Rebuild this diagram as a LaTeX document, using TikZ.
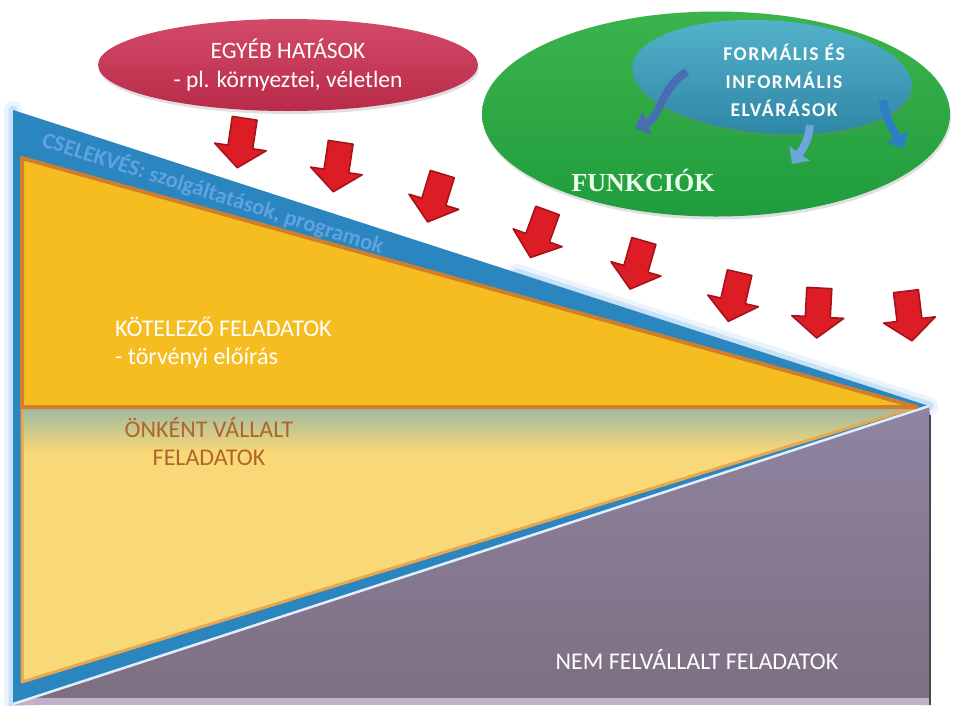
\documentclass[tikz,border=0pt]{standalone}
\usepackage{fontspec}
\setmainfont{Carlito}
\newfontfamily\funkfont{Liberation Serif}
\usetikzlibrary{arrows.meta,shapes.geometric,shadows,calc}
\definecolor{BandBlue}{HTML}{2B86BF}
\definecolor{GlowBlue}{HTML}{9CCBF0}
\definecolor{GoldTop}{HTML}{F6BD21}
\definecolor{GoldLow}{HTML}{F8D877}
\definecolor{GoldEdge}{HTML}{CF7E2C}
\definecolor{GoldEdgeLow}{HTML}{E9A64C}
\definecolor{SageTint}{HTML}{9DB8A4}
\definecolor{MauveTop}{HTML}{8F84A2}
\definecolor{MauveBot}{HTML}{7D6F81}
\definecolor{MauveStrip}{HTML}{C2B0C9}
\definecolor{RoseTop}{HTML}{D24A68}
\definecolor{RoseBot}{HTML}{B92B48}
\definecolor{LeafTop}{HTML}{3BB44C}
\definecolor{LeafBot}{HTML}{1F9C3D}
\definecolor{TealTop}{HTML}{55B3CB}
\definecolor{TealBot}{HTML}{2F87A6}
\definecolor{ArrRed}{HTML}{DD1D26}
\definecolor{ArrDark}{HTML}{A8121B}
\definecolor{TextBrown}{HTML}{B0652A}
\definecolor{TextSky}{HTML}{5FA2E2}
\definecolor{CurlOne}{HTML}{4A6CB3}
\definecolor{CurlTwo}{HTML}{6CA6DC}
\definecolor{CurlThree}{HTML}{2F7DC5}

\begin{document}
\begin{tikzpicture}[x=1pt, y=-1pt,
  txt/.style={font=\fontsize{24}{28}\selectfont, inner sep=0pt, align=center},
  blob/.style={ellipse, inner sep=0pt, drop shadow={opacity=0.25, shadow xshift=1pt, shadow yshift=-3pt}},
  push/.style={fill=ArrRed, draw=ArrDark, line width=1.6pt, line join=round},
  curlarrow/.style={line width=8pt, -{Triangle[length=13pt, width=24pt]}},
  glow/.style={draw=GlowBlue, line join=round, line cap=round}
]
\useasboundingbox[fill=white] (0,0) rectangle (953,705);

\coordinate (tl) at (13,110);
\coordinate (tip) at (929,406);
\coordinate (bl) at (13,704);
\coordinate (ytl) at (22,158);
\coordinate (ytip) at (917,407);
\coordinate (yml) at (22,407);
\coordinate (ybl) at (22,682);
\coordinate (tm) at ($(tl)!0.55!(tip)$);

\draw[glow, line width=18pt, opacity=0.2] (tl) -- (bl) (tm) -- (tip) -- (bl);
\draw[glow, line width=9pt, opacity=0.45] (tl) -- (bl) (tm) -- (tip) -- (bl);

\shade[top color=MauveTop, bottom color=MauveBot] (tip) -- (930,415) -- (930,705) -- (bl) -- cycle;
\fill[MauveStrip] (13,698) rectangle (930,705);
\draw[MauveBot!60!black, line width=1.5pt] (930,415) -- (930,705);

\fill[BandBlue] (tl) -- (tip) -- (bl) -- cycle;
\draw[white!70!GlowBlue, line width=2.5pt] (bl) -- (tip);

\fill[GoldLow] (yml) -- (ytip) -- (ybl) -- cycle;
\begin{scope}
  \clip (yml) -- (ytip) -- (ybl) -- cycle;
  \shade[top color=SageTint, bottom color=GoldLow] (22,407) rectangle (917,452);
\end{scope}
\draw[GoldEdgeLow, line width=3pt, line join=round] (yml) -- (ytip) -- (ybl) -- cycle;
\filldraw[fill=GoldTop, draw=GoldEdge, line width=4pt, line join=round] (ytl) -- (ytip) -- (yml) -- cycle;

\node[font=\bfseries\fontsize{22.5}{22.5}\selectfont, text=TextSky, rotate=-17.6] (cselekves) at (213,193) {CSELEKVÉS: szolgáltatások, programok};
\node[txt, text=white, anchor=west, align=left] (kotelezo) at (115,343) {KÖTELEZŐ FELADATOK\\- törvényi előírás};
\node[txt, text=TextBrown] (onkent) at (209,442) {ÖNKÉNT VÁLLALT\\FELADATOK};
\node[txt, text=white] (nem) at (697,660) {NEM FELVÁLLALT FELADATOK};

\node[blob, top color=RoseTop, bottom color=RoseBot, minimum width=380pt, minimum height=92pt, text=white, font=\fontsize{23.5}{29}\selectfont, align=center] (hatasok) at (288,65) {EGYÉB HATÁSOK\\- pl. környeztei, véletlen};

\node[blob, top color=LeafTop, bottom color=LeafBot, minimum width=468pt, minimum height=205pt] (funkciok) at (716,114) {};
\node[font=\funkfont\bfseries\fontsize{26}{26}\selectfont, text=white!92!green] (funklabel) at (643,180) {FUNKCIÓK};

\node[blob, top color=TealTop, bottom color=TealBot, minimum width=280pt, minimum height=113pt, rotate=-4] (elvarasok) at (772,77) {};
\node[text=white, align=center, font=\bfseries\fontsize{19.5}{28}\selectfont\addfontfeature{LetterSpace=8}] (elvlabel) at (784,80) {FORMÁLIS ÉS\\INFORMÁLIS\\ELVÁRÁSOK};

\coordinate (b1s) at (687,72);
\coordinate (b1e) at (635,128);
\coordinate (b2s) at (810,125);
\coordinate (b2e) at (792,164);
\coordinate (b3s) at (883,100);
\coordinate (b3e) at (904,148);
\draw[curlarrow, color=CurlOne] (b1s) .. controls (663,84) and (660,118) .. (b1e);
\draw[curlarrow, color=CurlTwo] (b2s) .. controls (809,140) and (802,150) .. (b2e);
\draw[curlarrow, color=CurlThree] (b3s) .. controls (885,118) and (893,130) .. (b3e);

\foreach \cx/\cy/\tilt in {241/143/-8.5, 337/167/-8.5, 435/198/-17, 539/234/-20, 637/265/-16, 734/297/-13, 818/313/-3, 909/316/7}
  \draw[push, shift={(\cx,\cy)}, rotate=\tilt] (-12.5,-25) -- (12.5,-25) -- (12.5,4) -- (26,4) -- (0,25) -- (-26,4) -- (-12.5,4) -- cycle;
\end{tikzpicture}
\end{document}
